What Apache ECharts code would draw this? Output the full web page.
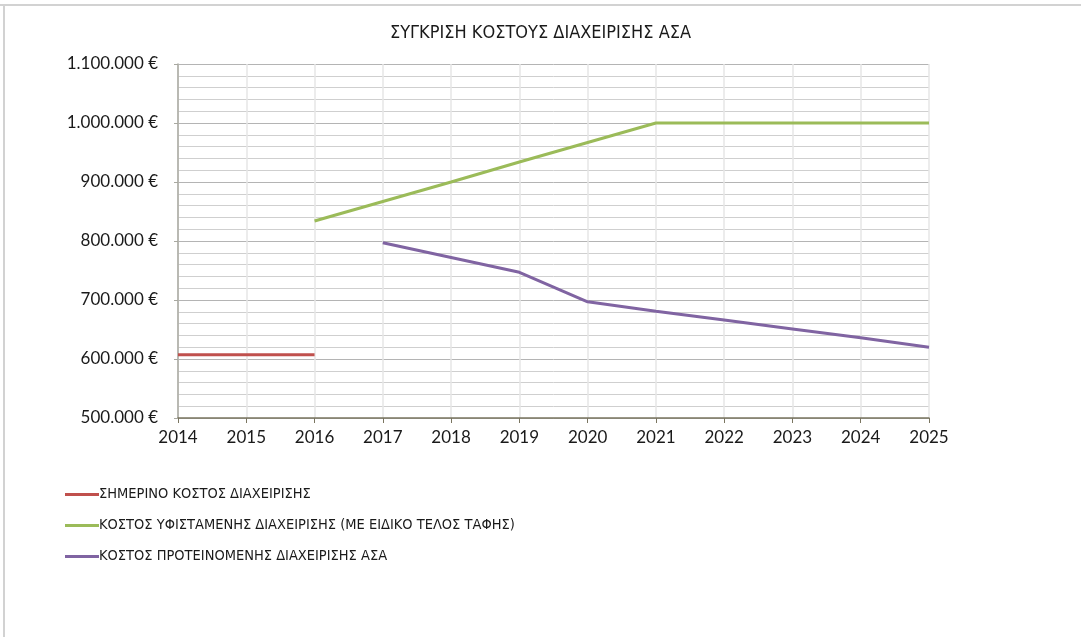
<!DOCTYPE html>
<html>
<head>
<meta charset="utf-8">
<script src="https://cdn.jsdelivr.net/npm/echarts@6/dist/echarts.min.js"></script>
<style>
  html, body { margin: 0; padding: 0; background: #fff; }
  #main { width: 1081px; height: 637px; }
</style>
</head>
<body>
<div id="main"></div>
<script>
// δεδομένα
var years = ['2014', '2015', '2016', '2017', '2018', '2019', '2020', '2021', '2022', '2023', '2024', '2025'];
var seriesNames = [
  'ΣΗΜΕΡΙΝΟ ΚΟΣΤΟΣ ΔΙΑΧΕΙΡΙΣΗΣ',
  'ΚΟΣΤΟΣ ΥΦΙΣΤΑΜΕΝΗΣ ΔΙΑΧΕΙΡΙΣΗΣ (ΜΕ ΕΙΔΙΚΟ ΤΕΛΟΣ ΤΑΦΗΣ)',
  'ΚΟΣΤΟΣ ΠΡΟΤΕΙΝΟΜΕΝΗΣ ΔΙΑΧΕΙΡΙΣΗΣ ΑΣΑ'
];
var currentCost = [607000, 607000, 607000, null, null, null, null, null, null, null, null, null];
var existingCost = [null, null, 834000, 867000, 900000, 934000, 967000, 1000000, 1000000, 1000000, 1000000, 1000000];
var proposedCost = [null, null, null, 797000, 772000, 747000, 697000, 681000, 666000, 651000, 636000, 620000];
var colors = ['#c0504d', '#9bbb59', '#8064a2'];

function euro(v) {
  var s = String(Math.round(v));
  return s.replace(/\B(?=(\d{3})+(?!\d))/g, '.') + ' €';
}

var myChart = echarts.init(document.getElementById('main'));

var seriesData = [currentCost, existingCost, proposedCost];
var series = [];
seriesData.map(function (d, i) {
  series.push({
    name: seriesNames[i],
    type: 'line',
    data: d,
    showSymbol: false,
    symbol: 'none',
    connectNulls: false,
    lineStyle: { width: 3, color: colors[i] },
    itemStyle: { color: colors[i] }
  });
});

var option = {
  backgroundColor: '#fff',
  animation: false,
  title: {
    text: 'ΣΥΓΚΡΙΣΗ ΚΟΣΤΟΥΣ ΔΙΑΧΕΙΡΙΣΗΣ ΑΣΑ',
    left: 'center',
    top: 19,
    textStyle: {
      fontFamily: 'DejaVu Sans Condensed',
      fontWeight: 'normal',
      fontSize: 18,
      color: '#1a1a1a'
    }
  },
  legend: {
    orient: 'vertical',
    left: 60,
    top: 481,
    itemGap: 14,
    itemWidth: 34,
    itemHeight: 3,
    icon: 'rect',
    data: seriesNames,
    textStyle: {
      fontFamily: 'DejaVu Sans Condensed',
      fontSize: 14.5,
      lineHeight: 17,
      color: '#1a1a1a',
      padding: [0, 0, 0, -5]
    }
  },
  grid: {
    left: 178,
    right: 152,
    top: 64,
    bottom: 219,
    containLabel: false
  },
  xAxis: {
    type: 'category',
    boundaryGap: false,
    data: years,
    axisLine: { show: true, lineStyle: { color: '#7a7560', width: 1.5 } },
    axisTick: { show: true, length: 5, lineStyle: { color: '#7a7560' } },
    axisLabel: {
      margin: 11,
      fontFamily: 'Lato',
      fontSize: 17,
      color: '#1a1a1a'
    },
    splitLine: { show: true, lineStyle: { color: '#e6e6e6', width: 1.5 } }
  },
  yAxis: {
    type: 'value',
    min: 500000,
    max: 1100000,
    interval: 100000,
    axisLine: { show: true, lineStyle: { color: '#a8a8a0', width: 1.5 } },
    axisTick: { show: true, length: 4, lineStyle: { color: '#a8a8a0' } },
    axisLabel: {
      margin: 20,
      fontFamily: 'Lato',
      fontSize: 17,
      color: '#1a1a1a',
      formatter: function (v) { return euro(v); }
    },
    splitLine: { show: true, lineStyle: { color: '#b4b4b4', width: 1 } },
    minorTick: { show: false, splitNumber: 5 },
    minorSplitLine: { show: true, lineStyle: { color: '#cfcfcf', width: 1 } }
  },
  graphic: [
    { type: 'line', shape: { x1: 0, y1: 5, x2: 1081, y2: 5 }, style: { stroke: '#d2d2d2', lineWidth: 2 } },
    { type: 'line', shape: { x1: 4, y1: 5, x2: 4, y2: 637 }, style: { stroke: '#d2d2d2', lineWidth: 2 } }
  ],
  series: series
};

myChart.setOption(option);
</script>
</body>
</html>
